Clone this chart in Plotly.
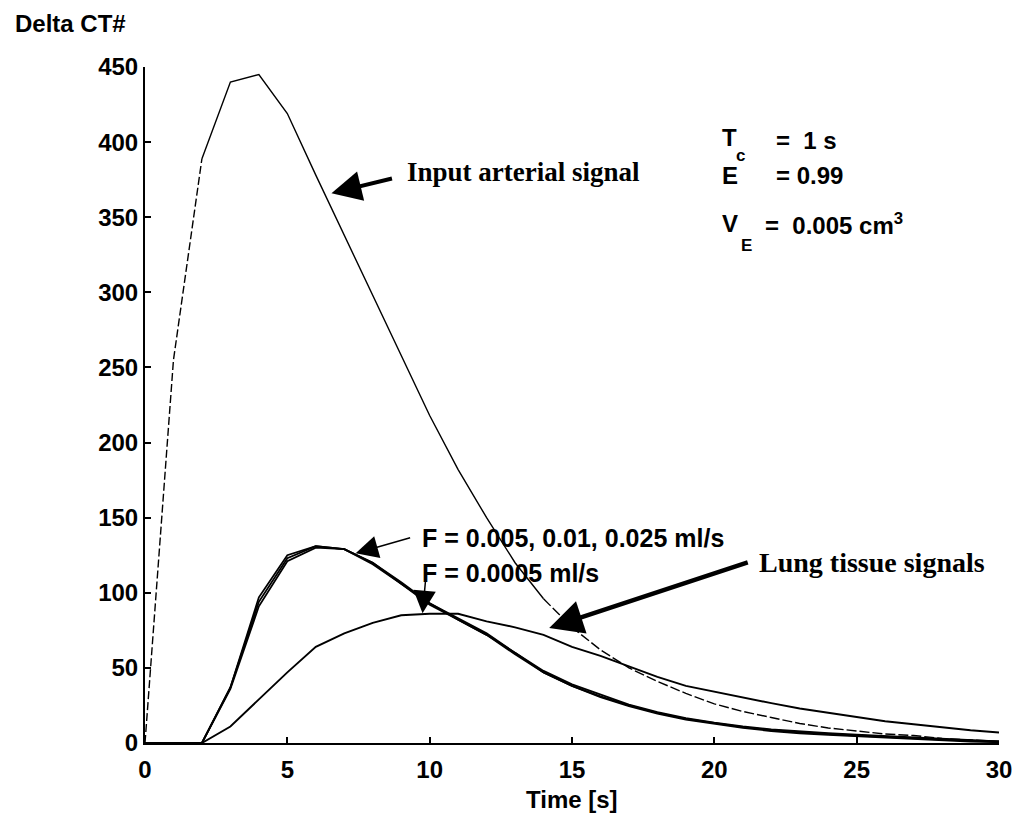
import plotly.graph_objects as go

# Time axis (s) and curve samples
time_s = list(range(31))

input_arterial = [0, 255, 389, 440, 445, 419, 378, 338, 298, 258, 218, 182, 150, 120, 96,
                  77, 62, 50, 41, 33, 26, 21, 17, 13, 10, 8, 6, 5, 3, 2, 1]

lung_f0025 = [0, 0, 0, 37, 97, 125, 131, 129, 120, 107, 93, 83, 73, 60, 48,
              39, 32, 25.5, 20.5, 16.5, 13.5, 11, 9, 7.5, 6.5, 5.5, 4.5, 3.5, 2.5, 1.5, 1]
lung_f0010 = [0, 0, 0, 37, 94, 123, 131, 129, 120, 106, 93, 82, 72, 60, 47,
              38, 31, 25, 20, 16, 13, 10.5, 8.5, 7, 6, 5, 4, 3, 2, 1.5, 1]
lung_f0005 = [0, 0, 0, 36, 91, 121, 130, 129, 119, 106, 92, 82, 72, 59, 47,
              38, 30.5, 24.5, 19.5, 15.5, 12.5, 10, 8, 6.5, 5.5, 4.5, 3.5, 2.5, 2, 1, 0.5]
lung_f00005 = [0, 0, 0, 11, 29, 47, 64, 73, 80, 85, 86, 86, 81, 77, 72,
               64, 58, 51, 44, 38, 34, 30, 26.5, 23, 20, 17, 14.5, 12.5, 10.5, 8.5, 7]

x_ticks = [0, 5, 10, 15, 20, 25, 30]
y_ticks = [0, 50, 100, 150, 200, 250, 300, 350, 400, 450]

SANS = "Liberation Sans, Arial, sans-serif"
SERIF = "Liberation Serif, Times New Roman, serif"

fig = go.Figure()

# input arterial signal: dashed rise, solid body, dashed tail
segments = [(0, 3, "8px,3px"), (2, 15, "solid"), (14, 31, "10px,3px")]
for a, b, dash in segments:
    fig.add_trace(go.Scatter(x=time_s[a:b], y=input_arterial[a:b], mode="lines",
                             line=dict(color="black", width=1.4, dash=dash),
                             showlegend=False, hoverinfo="skip"))

for series in (lung_f0025, lung_f0010, lung_f0005):
    fig.add_trace(go.Scatter(x=time_s, y=series, mode="lines",
                             line=dict(color="black", width=1.8),
                             showlegend=False, hoverinfo="skip"))

fig.add_trace(go.Scatter(x=time_s, y=lung_f00005, mode="lines",
                         line=dict(color="black", width=1.9),
                         showlegend=False, hoverinfo="skip"))

ann = []

def text(x, y, s, size=25, family=SANS, bold=True, xanchor="left", xref="x", yref="y"):
    ann.append(dict(x=x, y=y, xref=xref, yref=yref, text=s, showarrow=False,
                    xanchor=xanchor, yanchor="middle",
                    font=dict(family=family, size=size, color="black",
                              weight="bold" if bold else "normal")))

def arrow(x, y, ax, ay, width, size):
    ann.append(dict(x=x, y=y, xref="x", yref="y", text="", showarrow=True,
                    ax=ax, ay=ay, arrowhead=2, arrowwidth=width, arrowsize=size,
                    arrowcolor="black"))

text(9.15, 380, "Input arterial signal", size=27, family=SERIF)
arrow(6.55, 366, 62, -15, 4, 1.5)

text(21.5, 120, "Lung tissue signals", size=28, family=SERIF)
arrow(14.2, 76.6, 200, -66, 4.5, 1.5)

text(9.67, 136.5, "F = 0.005, 0.01, 0.025 ml/s")
arrow(7.4, 126.3, 56, -16, 1.5, 3)
text(9.67, 113, "F = 0.0005 ml/s")
arrow(9.75, 86.4, 3, -33, 1.5, 3)

# model parameters
text(20.2, 403, "T", size=24)
text(20.7, 391, "c", size=17)
text(22.1, 401, "=  1 s", size=24)
text(20.2, 378, "E", size=24)
text(22.1, 378, "= 0.99", size=24)
text(20.2, 345.5, "V", size=24)
text(20.85, 331.5, "E", size=17)
text(21.7, 345.5, "=  0.005 cm<sup>3</sup>", size=24)

text(-0.155, 1.065, "Delta CT#", size=24, xref="paper", yref="paper")
text(15, -0.084, "Time [s]", size=24, xanchor="center", yref="paper")

fig.update_layout(
    width=1024, height=821,
    margin=dict(l=145, r=22, t=67, b=78),
    paper_bgcolor="white", plot_bgcolor="white",
    annotations=ann,
    xaxis=dict(range=[0, 30], tickvals=x_ticks, showgrid=False, zeroline=False,
               showline=True, linecolor="black", linewidth=2,
               ticks="inside", ticklen=6, tickwidth=1.5, tickcolor="black",
               ticklabelstandoff=4,
               tickfont=dict(family=SANS, size=24, color="black", weight="bold")),
    yaxis=dict(range=[0, 450], tickvals=y_ticks, showgrid=False, zeroline=False,
               showline=True, linecolor="black", linewidth=2,
               ticks="inside", ticklen=6, tickwidth=1.5, tickcolor="black",
               ticklabelstandoff=0,
               tickfont=dict(family=SANS, size=24, color="black", weight="bold")),
)

fig.write_html("out.html")
